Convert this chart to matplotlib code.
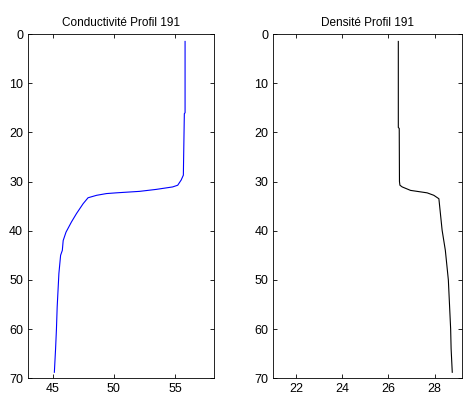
import numpy as np
import matplotlib.pyplot as plt

plt.rcParams['font.family'] = ['Liberation Sans', 'DejaVu Sans']

prof_cond = [1.5, 16, 16.2, 28.7, 29.7, 30.75, 31.1, 31.6, 32.0, 32.3, 32.45, 32.8, 33.3,
             34.5, 36.5, 38.2, 40.3, 42, 44, 45, 48.7, 55.5, 60, 64, 68.8]
conductivite = [55.82, 55.82, 55.76, 55.68, 55.5, 55.22, 54.8, 53.46, 52.1, 50.2, 49.4, 48.6, 47.9,
                47.5, 46.96, 46.55, 46.1, 45.87, 45.8, 45.66, 45.52, 45.38, 45.32, 45.25, 45.15]

prof_dens = [1.5, 19, 19.2, 30.0, 30.75, 31.1, 31.8, 32.3, 32.8, 33.5, 39.9, 44, 50, 55, 60, 64, 68.8]
densite = [26.43, 26.43, 26.47, 26.48, 26.5, 26.6, 26.96, 27.68, 27.97, 28.19, 28.33, 28.47,
           28.6, 28.65, 28.7, 28.72, 28.77]

fig = plt.figure(figsize=(4.75, 3.96), dpi=100)

ax1 = fig.add_axes([0.059, 0.045, 0.392, 0.869])
ax1.plot(conductivite, prof_cond, color='blue', linewidth=0.8)
ax1.set_xlim(43, 58.2)
ax1.set_xticks([45, 50, 55])
ax1.set_title('Conductivité Profil 191', fontsize=8.5)

ax2 = fig.add_axes([0.575, 0.045, 0.398, 0.869])
ax2.plot(densite, prof_dens, color='black', linewidth=0.8)
ax2.set_xlim(21, 29.2)
ax2.set_xticks([22, 24, 26, 28])
ax2.set_title('Densité Profil 191', fontsize=8.5)

for ax in (ax1, ax2):
    ax.set_ylim(70, 0)
    ax.set_yticks(range(0, 71, 10))
    ax.tick_params(direction='in', top=True, right=True, labelsize=9, length=3, width=0.6)
    for s in ax.spines.values():
        s.set_linewidth(0.6)

plt.savefig('out.png', dpi=100)
